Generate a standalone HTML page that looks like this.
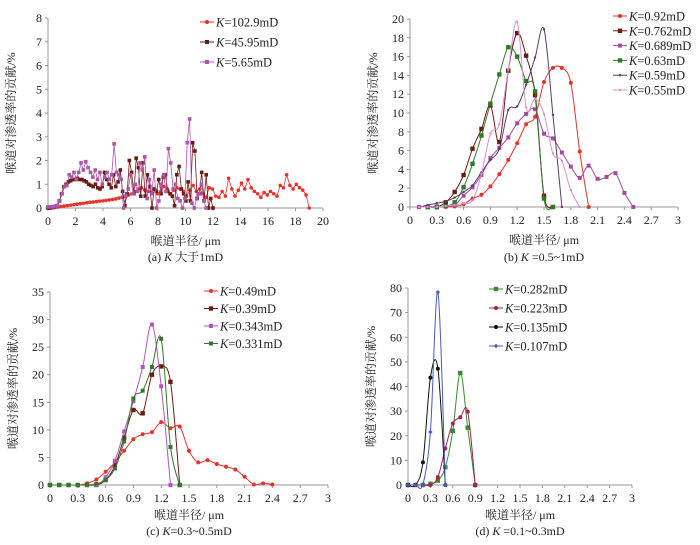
<!DOCTYPE html>
<html><head><meta charset="utf-8"><style>
body{margin:0;background:#fff}
svg text{font-family:"Liberation Serif","Noto Serif CJK SC","Noto Sans CJK SC",serif;fill:#222}
</style></head><body>
<svg id="c" width="700" height="540" xmlns="http://www.w3.org/2000/svg"></svg>
<script>
// Panel a data
const aRedY=[0,0.01,0.02,0.04,0.06,0.08,0.1,0.12,0.14,0.16,0.18,0.2,0.22,0.24,0.25,0.27,0.29,0.3,0.32,0.34,0.36,0.38,0.42,0.45,0.48,0.55,0.6,0.7,0.8,0.85,0.75,0.7,0.65,0.8,0.6,0.7,0.9,0.8,0.6,0.75,0.85,0.8,0.7,0.5,0.75,0.95,0.7,0.8,0.6,0.45,0.85,0.8,0.5,0.45,0.7,0.5,1.25,0.8,0.5,0.75,1.05,0.8,1.2,0.85,0.7,0.6,0.45,0.65,0.55,0.7,0.6,0.5,0.95,0.85,1.4,0.95,0.8,1.0,0.85,0.75,0.55,0];
const aBrownY=[0,0,0.02,0.05,0.1,0.3,0.6,0.9,1.0,1.1,1.15,1.2,1.2,1.25,1.2,1.2,1.15,1.1,1.0,0.95,0.9,1.0,0.85,0.8,0.9,1.5,1.2,1.0,0.85,1.4,0.9,1.1,1.6,0.7,0.1,0.6,2.0,1.5,0.6,2.1,1.7,0.5,1.9,0.5,1.4,0.9,0,0.8,0.7,1.2,0.6,1.3,1.4,0.7,0.6,0.5,0.1,1.4,1.75,0.8,0.6,0.3,1.1,0.3,2.75,2.4,0.4,0.6,1.5,0.3,1.4,0,0.4,0];
const aPurpleY=[0.05,0.05,0.05,0.08,0.1,0.3,0.6,0.9,0.95,1.4,1.3,1.5,1.2,1.5,1.9,1.6,1.95,1.7,1.5,1.3,1.6,1.2,1.5,1.0,1.3,1.5,1.2,1.4,2.7,1.5,1.4,1.2,0,0.5,0.8,1.4,0.6,1.0,0.7,1.9,1.6,2.15,0.4,1.2,0.6,1.6,0,0.3,1.0,1.4,0.7,2.5,1.9,0.8,1.0,0.4,0.3,0,0.4,2.75,3.75,0.2,0,0.4,0.6,1.0,0.3,0];
const aRedXmax=19, aBrownXmax=12, aPurpleXmax=11.5;
// Panel b
const bX=[0.1,0.2,0.3,0.4,0.5,0.6,0.7,0.8,0.9,1.0,1.1,1.2,1.3,1.4,1.5,1.6,1.7,1.8,1.9,2.0,2.1,2.2,2.3,2.4,2.5];
const b092=[null,null,null,0,0.05,0.3,0.9,1.3,2.2,3.5,5,6.8,8.8,9.6,13.3,14.8,14.8,13.2,5.9,0];
const b0762=[null,0,0,0.5,1.6,3.4,6.2,8.3,10.8,6.9,14.5,18.5,16.1,11.9,1.2,0];
const b0689=[0,0.05,0.05,0.1,0.2,1.2,2.1,3.4,5.2,6.3,7.4,8.9,9.9,10.4,7.8,7.3,5.8,4.3,3.1,4.4,3.0,3.2,3.6,1.5,0];
const b063=[null,0,0,0.1,0.5,2.1,4.6,7.6,11,14.1,17,16,13.4,12.3,0.9,0];
const b059=[0,0.2,0.4,0.6,1.0,1.6,2.3,3.7,5.0,6.2,10.3,10.7,13,15.9,18.9,9.8,0];
const b055=[0,0,0,0.1,0.2,0.4,0.7,3.5,7.8,8.8,14.6,19.7,10.6,11.5,9.9,5.7,4.9,1.8,0];
// Panel c
const cX=[0,0.1,0.2,0.3,0.4,0.5,0.6,0.7,0.8,0.9,1.0,1.1,1.2,1.3,1.4,1.5,1.6,1.7,1.8,1.9,2.0,2.1,2.2,2.3,2.4];
const c049=[0,0,0,0,0.3,1,2.4,4.1,6.2,8.3,9.2,9.6,11.4,10.3,10.6,6.2,4.1,4.5,3.8,3.3,2.8,1.5,0.1,0.3,0.1];
const c039=[0,0,0,0,0,0,0.9,3.5,8.6,13.6,13.0,20,21.5,18.7,0];
const c0343=[0,0,0,0,0,0,1.4,4.4,9.7,15.2,21.4,29.1,17.9,0];
const c0331=[0,0,0,0,0,0.2,0.9,3,7.9,15.7,17.1,21.4,26.5,6.9,0];
// Panel d
const dX=[0,0.1,0.2,0.3,0.4,0.5,0.6,0.7,0.8,0.9];
const d0282=[0,0,0,0.5,1.8,7.2,22,45.5,23.3,0];
const d0223=[0,0,0,0,3.2,14.8,25,27.5,29.8,0];
const d0135=[0,0,9.2,43.6,47.2,0];
const d0107=[0,0,0.2,21.5,78.3,0];
const tickA=[0,2,4,6,8,10,12,14,16,18,20];
const tick3=["0","0.3","0.6","0.9","1.2","1.5","1.8","2.1","2.4","2.7","3"];

const S=document.getElementById('c');const NS='http://www.w3.org/2000/svg';
function el(t,a,p){const e=document.createElementNS(NS,t);for(const k in a)e.setAttribute(k,a[k]);(p||S).appendChild(e);return e;}
function txt(x,y,s,a,p){const e=el('text',Object.assign({x:x,y:y,'font-size':11},a||{}),p);e.textContent=s;return e;}
function panel(P){
  const g=el('g',{});
  
  
  const sx=v=>P.x0+(v-P.xmin)/(P.xmax-P.xmin)*(P.x1-P.x0);
  const sy=v=>P.y0-(v/P.ymax)*(P.y0-P.y1);
  P.sx=sx;P.sy=sy;
  const ax=el('line',{x1:P.x0,y1:P.y0,x2:P.x1,y2:P.y0,stroke:'#999','stroke-width':1},g);
  
  const ay=el('line',{x1:P.x0,y1:P.y0,x2:P.x0,y2:P.y1,stroke:'#999','stroke-width':1},g);
  
  for(let v=0;v<=P.ymax+1e-9;v+=P.ystep){const y=sy(v);el('line',{x1:P.x0-3,y1:y,x2:P.x0,y2:y,stroke:'#999'},g);
    const t=txt(P.x0-6,y+4,String(v),{'text-anchor':'end','font-size':12},g);
    }
  P.xt.forEach(s=>{const x=sx(parseFloat(s));el('line',{x1:x,y1:P.y0,x2:x,y2:P.y0+3,stroke:'#999'},g);
    const t=txt(x,P.y0+17,String(s),{'text-anchor':'middle','font-size':12},g);
    });
  const xt=txt((P.x0+P.x1)/2,P.y0+P.tOff,'喉道半径/ μm',{'text-anchor':'middle','font-size':12},g);
  
  const yx=P.x0-33,yy=(P.y0+P.y1)/2;
  const yt=txt(yx,yy,'喉道对渗透率的贡献/%',{'text-anchor':'middle','font-size':12,transform:`rotate(-90 ${yx} ${yy})`},g);
  
  const cp=txt((P.x0+P.x1)/2,P.y0+P.cOff,'',{'text-anchor':'middle','font-size':12},g);
  cp.innerHTML=P.cap;
  
  return g;
}
function marker(g,x,y,m,c,r){
  if(m==='c')return el('circle',{cx:x,cy:y,r:r,fill:c},g);
  if(m==='s')return el('rect',{x:x-r,y:y-r,width:2*r,height:2*r,fill:c},g);
  if(m==='d')return el('path',{d:`M${x} ${y-r}L${x+r} ${y}L${x} ${y+r}L${x-r} ${y}Z`,fill:c},g);
}
function pathD(pts,smooth){
  if(!smooth)return 'M'+pts.map(p=>p[0].toFixed(1)+' '+p[1].toFixed(1)).join('L');
  let d='M'+pts[0][0]+' '+pts[0][1];
  for(let i=0;i<pts.length-1;i++){const p0=pts[i-1]||pts[i],p1=pts[i],p2=pts[i+1],p3=pts[i+2]||p2;
    const c1=[p1[0]+(p2[0]-p0[0])/6,p1[1]+(p2[1]-p0[1])/6],c2=[p2[0]-(p3[0]-p1[0])/6,p2[1]-(p3[1]-p1[1])/6];
    d+=`C${c1[0].toFixed(1)} ${c1[1].toFixed(1)} ${c2[0].toFixed(1)} ${c2[1].toFixed(1)} ${p2[0].toFixed(1)} ${p2[1].toFixed(1)}`;}
  return d;
}
function series(P,name,xs,ys,c,m,r,smooth,lw){
  const g=el('g',{});
  
  
  const pts=[];ys.forEach((v,i)=>{if(v!==null&&v!==undefined)pts.push([P.sx(xs[i]),P.sy(v)]);});
  el('path',{d:pathD(pts,smooth),fill:'none',stroke:c,'stroke-width':lw||1},g);
  pts.forEach(p=>{const mk=marker(g,p[0],p[1],m,c,r);
    });
}
function legend(x,y,lab,c,m,r){
  const g=el('g',{});
  
  
  el('line',{x1:x,y1:y,x2:x+14,y2:y,stroke:c},g);marker(g,x+7,y,m,c,r);
  const t=txt(x+16,y+4.5,'',{'font-size':12.5},g);t.innerHTML='<tspan font-style="italic">K</tspan>='+lab;
}
const evenX=(n,max)=>ys=>ys.map((_,i)=>i*max/(ys.length-1));
// Panel A
const A={name:'panel-a',x0:48,x1:323,y0:208,y1:18,xmin:0,xmax:20,ymax:8,ystep:1,tOff:37,cOff:53,xt:tickA.map(String),cap:'(a) <tspan font-style="italic">K</tspan> 大于1mD'};
panel(A);
series(A,'series-102.9mD',evenX(0,aRedXmax)(aRedY),aRedY,'#e8322a','c',1.8,false,0.8);
series(A,'series-45.95mD',evenX(0,aBrownXmax)(aBrownY),aBrownY,'#6a1c14','s',1.8,false,0.8);
series(A,'series-5.65mD',evenX(0,aPurpleXmax)(aPurpleY),aPurpleY,'#b055a8','s',1.8,false,0.8);
legend(200,22,'102.9mD','#e8322a','c',2);legend(200,42,'45.95mD','#6a1c14','s',2);legend(200,62,'5.65mD','#b055a8','s',2);
// Panel B
const B={name:'panel-b',x0:410,x1:678,y0:207,y1:19,xmin:0,xmax:3,ymax:20,ystep:2,tOff:37,cOff:54,xt:tick3,cap:'(b) <tspan font-style="italic">K</tspan> =0.5~1mD'};
panel(B);
series(B,'series-0.92mD',bX,b092,'#e8322a','c',2,true);
series(B,'series-0.762mD',bX,b0762,'#6a1c14','s',2.2,true);
series(B,'series-0.689mD',bX,b0689,'#a64aa0','s',2,true);
series(B,'series-0.63mD',bX,b063,'#2f7a2a','s',2.2,true);
series(B,'series-0.59mD',bX,b059,'#5a3a6a','c',1.2,true);
series(B,'series-0.55mD',bX,b055,'#d890d4','c',1.2,true);
[['0.92mD','#e8322a','c',2],['0.762mD','#6a1c14','s',2.2],['0.689mD','#a64aa0','s',2],['0.63mD','#2f7a2a','s',2.2],['0.59mD','#5a3a6a','c',1.2],['0.55mD','#d890d4','c',1.2]].forEach((l,i)=>legend(613,16+i*14.8,l[0],l[1],l[2],l[3]));
// Panel C
const C={name:'panel-c',x0:50,x1:328,y0:485,y1:292,xmin:0,xmax:3,ymax:35,ystep:5,tOff:34,cOff:50,xt:tick3,cap:'(c) <tspan font-style="italic">K</tspan>=0.3~0.5mD'};
panel(C);
series(C,'series-0.49mD',cX,c049,'#e8322a','c',2,true);
series(C,'series-0.39mD',cX,c039,'#6a1c14','s',2.2,true);
series(C,'series-0.343mD',cX,c0343,'#b055c0','s',2,true);
series(C,'series-0.331mD',cX,c0331,'#2f7a2a','s',2,true);
[['0.49mD','#e8322a','c',2],['0.39mD','#6a1c14','s',2.2],['0.343mD','#b055c0','s',2],['0.331mD','#2f7a2a','s',2]].forEach((l,i)=>legend(204,291+i*17.5,l[0],l[1],l[2],l[3]));
// Panel D
const D={name:'panel-d',x0:408,x1:632,y0:485,y1:288,xmin:0,xmax:3,ymax:80,ystep:10,tOff:34,cOff:50,xt:tick3,cap:'(d) <tspan font-style="italic">K</tspan> =0.1~0.3mD'};
panel(D);
series(D,'series-0.282mD',dX,d0282,'#3a8a30','s',2.2,true);
series(D,'series-0.223mD',dX,d0223,'#a02452','c',2,true);
series(D,'series-0.135mD',dX,d0135,'#111111','c',2,true);
series(D,'series-0.107mD',dX,d0107,'#4a58c0','d',2.2,true);
[['0.282mD','#3a8a30','s',2.2],['0.223mD','#a02452','c',2],['0.135mD','#111111','c',2],['0.107mD','#4a58c0','d',2.2]].forEach((l,i)=>legend(489,289+i*19,l[0],l[1],l[2],l[3]));
</script>
</body></html>
